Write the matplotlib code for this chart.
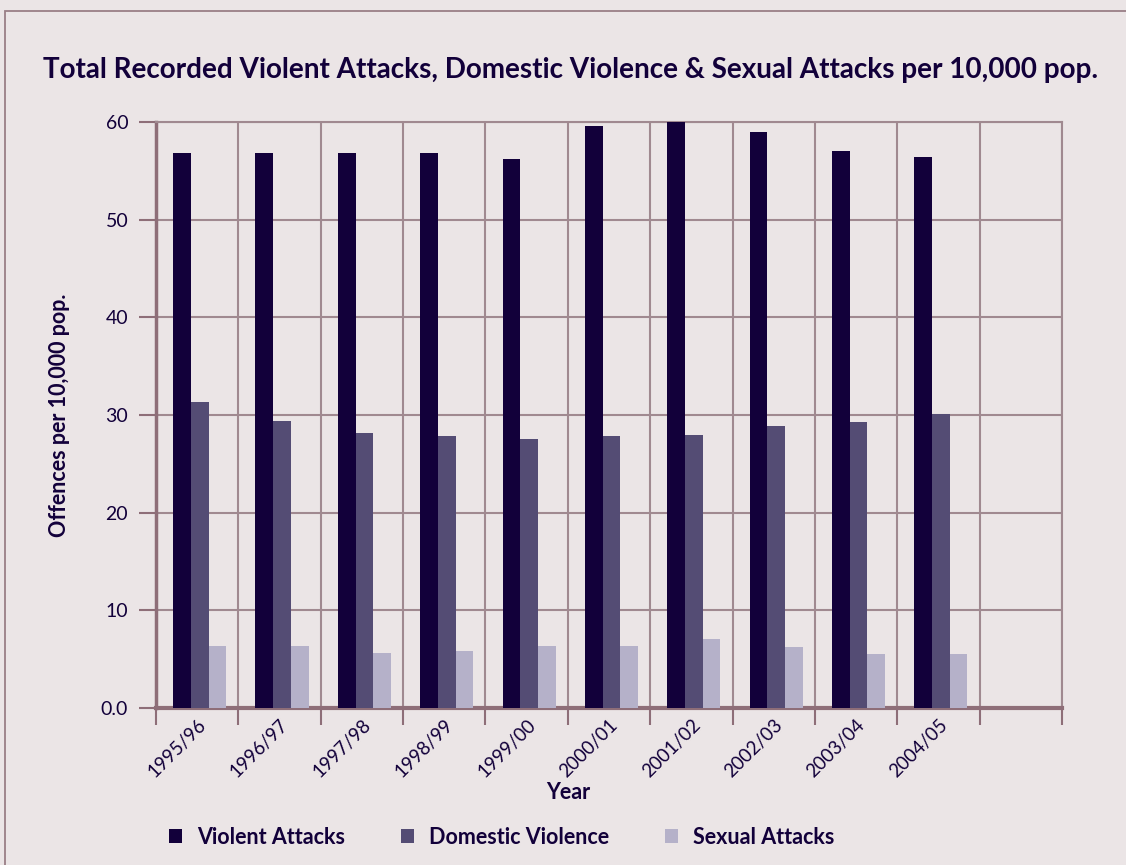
import matplotlib
matplotlib.use("Agg")
import matplotlib.pyplot as plt
from matplotlib.patches import Rectangle
import numpy as np

plt.rcParams['font.family'] = ['Lato', 'DejaVu Sans']

years = ["1995/96", "1996/97", "1997/98", "1998/99", "1999/00",
         "2000/01", "2001/02", "2002/03", "2003/04", "2004/05", ""]
violent = [56.8, 56.8, 56.8, 56.8, 56.2, 59.6, 60.0, 59.0, 57.0, 56.4]
domestic = [31.3, 29.35, 28.2, 27.8, 27.5, 27.9, 28.0, 28.9, 29.25, 30.1]
sexual = [6.3, 6.3, 5.6, 5.85, 6.3, 6.3, 7.1, 6.2, 5.5, 5.5]
series_names = ["Violent Attacks", "Domestic Violence", "Sexual Attacks"]

bg = "#ebe5e6"
ink = "#12003a"
grid_col = "#a08990"
spine_col = "#8e6e78"
colors = ["#12003a", "#544c74", "#b5b1c9"]

fig = plt.figure(figsize=(11.26, 8.65), dpi=100, facecolor=bg)
# outer frame
fig.patches.append(Rectangle((5 / 1126, -0.1), 1.2, (865 - 11) / 865 + 0.1,
                             transform=fig.transFigure, fill=False,
                             edgecolor="#9a7f86", linewidth=1.3))

ax = fig.add_axes([156 / 1126, 1 - 708 / 865, (1062 - 156) / 1126, (708 - 122) / 865])
ax.set_facecolor(bg)

x = np.arange(len(violent))
w = 0.215
offs = [-0.185, 0.03, 0.245]
for vals, off, col, name in zip([violent, domestic, sexual], offs, colors, series_names):
    ax.bar(x + off, vals, width=w, color=col, label=name, zorder=3, linewidth=0)

ax.set_xlim(-0.5, len(years) - 0.5)
ax.set_ylim(0, 60)

# gridlines
ax.set_yticks(np.arange(0, 61, 10))
ax.set_yticklabels(["0.0", "10", "20", "30", "40", "50", "60"])
ax.set_xticks(np.arange(len(years) + 1) - 0.5)
ax.set_xticklabels([])
ax.set_xticks(np.arange(len(years)), minor=True)
ax.set_xticklabels(years, minor=True, rotation=45, ha="right", va="top",
                   rotation_mode="anchor", fontsize=13.5, color=ink)
ax.tick_params(axis="x", which="major", length=12, width=1.5, color=spine_col)
ax.tick_params(axis="x", which="minor", length=0, pad=6)
ax.tick_params(axis="y", length=12, width=1.5, color=spine_col, labelsize=14,
               labelcolor=ink, pad=8)
ax.grid(True, which="major", color=grid_col, linewidth=1.5, zorder=0)
ax.set_axisbelow(True)

for s in ["top", "right"]:
    ax.spines[s].set_color(grid_col)
    ax.spines[s].set_linewidth(1.5)
ax.spines["left"].set_color(spine_col)
ax.spines["left"].set_linewidth(2.5)
ax.spines["bottom"].set_color(spine_col)
ax.spines["bottom"].set_linewidth(3)

ax.set_ylabel("Offences per 10,000 pop.", fontsize=15.5, fontweight="bold",
              color=ink, labelpad=22)
ax.text(4.5, -0.145, "Year", transform=ax.get_xaxis_transform(),
        ha="center", va="center", fontsize=15.5, fontweight="bold", color=ink)

fig.text(43 / 1126, 1 - 70 / 865,
         "Total Recorded Violent Attacks, Domestic Violence & Sexual Attacks per 10,000 pop.",
         ha="left", va="center", fontsize=20.1, fontweight="bold", color=ink)

handles, labels = ax.get_legend_handles_labels()
leg = fig.legend(handles, labels, loc="center", bbox_to_anchor=(502 / 1126, 1 - 837 / 865),
                 ncol=3, frameon=False, fontsize=15.5, handlelength=0.6, handleheight=0.6,
                 columnspacing=2.6, handletextpad=0.7)
for t in leg.get_texts():
    t.set_color(ink)
    t.set_fontweight("bold")

fig.savefig("out.png", dpi=100, facecolor=bg)
